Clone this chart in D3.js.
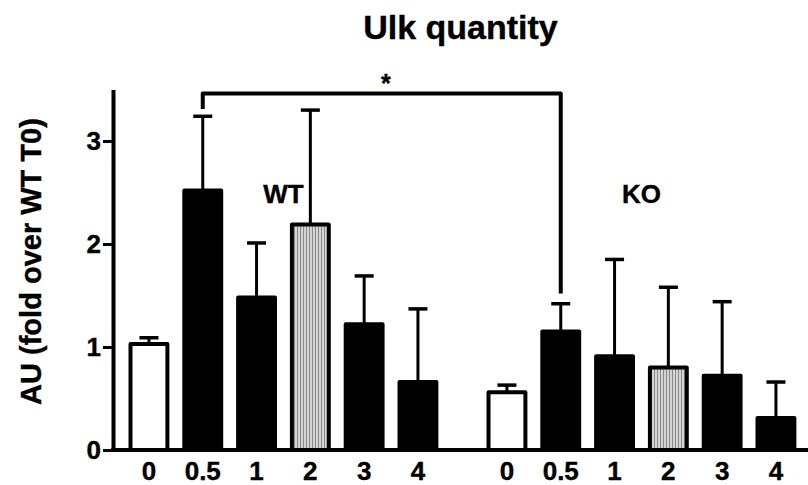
<!DOCTYPE html>
<html>
<head>
<meta charset="utf-8">
<script src="https://cdn.jsdelivr.net/npm/d3@7"></script>
<style>
  body { margin: 0; background: #fff; }
  text { font-family: "Liberation Sans", Arial, sans-serif; font-weight: bold; fill: #000; stroke: #000; stroke-width: 0.4px; }
</style>
</head>
<body>
<div id="chart"></div>
<script>
// data
const groups = ["WT", "KO"];
const times = ["0", "0.5", "1", "2", "3", "4"];
const wtMean = [1.03, 2.52, 1.48, 2.19, 1.22, 0.66];
const wtErr  = [0.06, 0.72, 0.53, 1.11, 0.47, 0.71];
const koMean = [0.56, 1.15, 0.91, 0.80, 0.72, 0.31];
const koErr  = [0.07, 0.27, 0.94, 0.78, 0.72, 0.35];
const yTicks = [0, 1, 2, 3];

// significance bracket between WT 0.5 and KO 0.5
const bracketFrom = ["WT", "0.5"];
const bracketTo = ["KO", "0.5"];
const bracketLevels = [3.31, 3.46, 1.52]; // left end, top, right end
const bracketLabel = "*";

const W = 808, H = 485;
const axisX = 113;

const svg = d3.select("#chart").append("svg")
  .attr("width", W)
  .attr("height", H);

// stripe pattern for the 2h bars
const pat = svg.append("defs").append("pattern")
  .attr("id", "stripes")
  .attr("patternUnits", "userSpaceOnUse")
  .attr("width", 3)
  .attr("height", 10);
pat.append("rect").attr("width", 3).attr("height", 10).attr("fill", "#d4d4d4");
pat.append("rect").attr("width", 1).attr("height", 10).attr("fill", "#8a8a8a");

// scales
const y = d3.scaleLinear().domain([0, 3.5]).range([450, 89.5]);

const xGroup = d3.scaleBand()
  .domain(groups)
  .range([115.6, 809.3])
  .paddingInner(0.0623)
  .paddingOuter(0);

const xTime = d3.scaleBand()
  .domain(times)
  .range([0, xGroup.bandwidth()])
  .padding(0.24);

const rows = [];
groups.forEach(g => {
  const means = g === "WT" ? wtMean : koMean;
  const errs = g === "WT" ? wtErr : koErr;
  times.forEach((t, i) => rows.push({ group: g, time: t, mean: means[i], err: errs[i] }));
});

const cx = (g, t) => xGroup(g) + xTime(t) + xTime.bandwidth() / 2;
const fillFor = t => t === "0" ? "#fff" : (t === "2" ? "url(#stripes)" : "#000");

const sw = 4;

// error bars (drawn first, bar covers the bottom)
const eb = svg.append("g").selectAll("g")
  .data(rows)
  .enter().append("g");
eb.append("line")
  .attr("x1", d => cx(d.group, d.time))
  .attr("x2", d => cx(d.group, d.time))
  .attr("y1", d => y(d.mean))
  .attr("y2", d => y(d.mean + d.err))
  .attr("stroke", "#000")
  .attr("stroke-width", 3);
eb.append("line")
  .attr("x1", d => cx(d.group, d.time) - 9.5)
  .attr("x2", d => cx(d.group, d.time) + 9.5)
  .attr("y1", d => y(d.mean + d.err))
  .attr("y2", d => y(d.mean + d.err))
  .attr("stroke", "#000")
  .attr("stroke-width", 3.5);

// bars
svg.append("g").selectAll("rect")
  .data(rows)
  .enter().append("rect")
  .attr("x", d => xGroup(d.group) + xTime(d.time) + sw / 2)
  .attr("y", d => y(d.mean))
  .attr("width", xTime.bandwidth() - sw)
  .attr("height", d => y(0) - y(d.mean))
  .attr("fill", d => fillFor(d.time))
  .attr("stroke", "#000")
  .attr("stroke-width", sw)
  .attr("stroke-linejoin", "round");

// x baseline
svg.append("line")
  .attr("x1", axisX - 2)
  .attr("x2", W)
  .attr("y1", y(0))
  .attr("y2", y(0))
  .attr("stroke", "#000")
  .attr("stroke-width", 4);

// x tick labels, one axis per group
groups.forEach(g => {
  const ax = svg.append("g")
    .attr("transform", `translate(${xGroup(g)},${y(0)})`)
    .call(d3.axisBottom(xTime).tickSize(0).tickPadding(12));
  ax.select(".domain").remove();
  ax.selectAll("text")
    .attr("font-size", 26)
    .attr("font-family", null);
});

// y axis
const yAx = svg.append("g")
  .attr("transform", `translate(${axisX},0)`)
  .call(d3.axisLeft(y).tickValues(yTicks).tickFormat(d3.format("d"))
    .tickSize(10).tickSizeOuter(0).tickPadding(2));
yAx.select(".domain").attr("stroke-width", 4);
yAx.selectAll(".tick line").attr("stroke-width", 3);
yAx.selectAll("text")
  .attr("font-size", 26)
  .attr("font-family", null);

// group labels
svg.append("g").selectAll("text")
  .data(groups)
  .enter().append("text")
  .attr("x", g => (cx(g, "1") + cx(g, "2")) / 2)
  .attr("y", y(2.4))
  .attr("text-anchor", "middle")
  .attr("font-size", 26)
  .text(g => g);

// bracket
const bx1 = cx(bracketFrom[0], bracketFrom[1]);
const bx2 = cx(bracketTo[0], bracketTo[1]);
svg.append("path")
  .attr("d", d3.line()([
    [bx1, y(bracketLevels[0])],
    [bx1, y(bracketLevels[1])],
    [bx2, y(bracketLevels[1])],
    [bx2, y(bracketLevels[2])]
  ]))
  .attr("fill", "none")
  .attr("stroke", "#000")
  .attr("stroke-width", 4)
  .attr("stroke-linejoin", "round");

svg.append("text")
  .attr("x", (bx1 + bx2) / 2 + 4)
  .attr("y", y(bracketLevels[1]) - 2)
  .attr("text-anchor", "middle")
  .attr("font-size", 25)
  .text(bracketLabel);

// title
svg.append("text")
  .attr("x", (axisX + W) / 2)
  .attr("y", 39)
  .attr("text-anchor", "middle")
  .attr("font-size", 34)
  .text("Ulk quantity");

// y axis title
svg.append("text")
  .attr("transform", `translate(41,${y(1.83)}) rotate(-90)`)
  .attr("text-anchor", "middle")
  .attr("font-size", 29)
  .text("AU (fold over WT T0)");
</script>
</body>
</html>
